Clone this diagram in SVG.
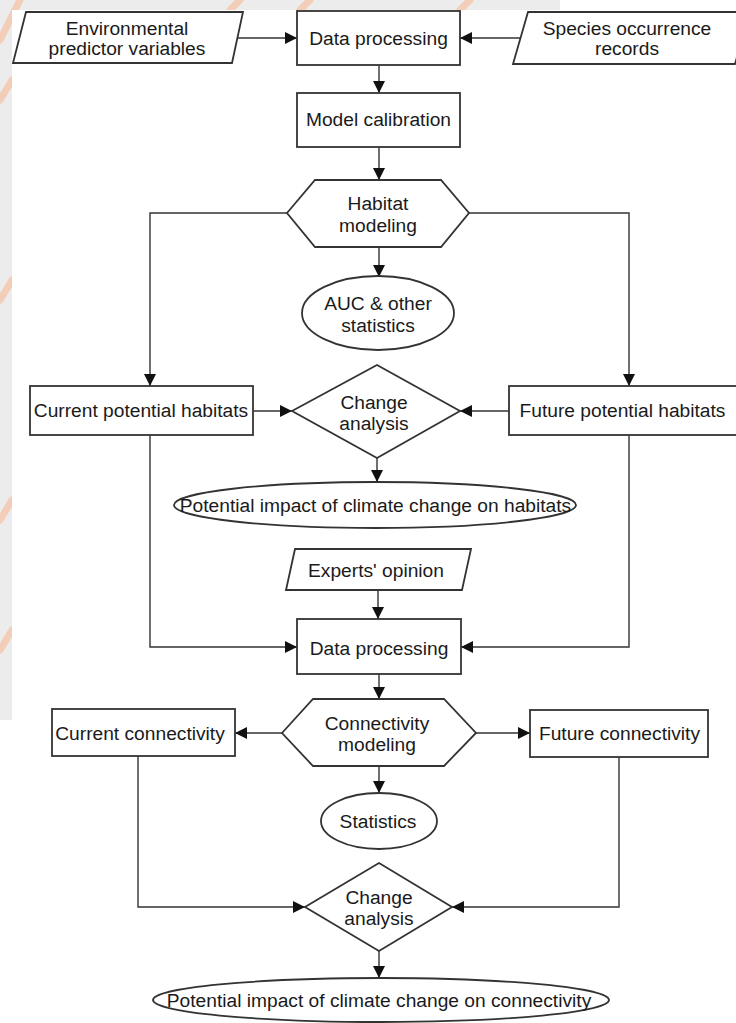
<svg xmlns="http://www.w3.org/2000/svg" width="736" height="1023" viewBox="0 0 736 1023">
<defs>
<style>
.n{fill:#fff;stroke:#333;stroke-width:1.8}
.c{fill:none;stroke:#333;stroke-width:1.4}
text{font-family:"Liberation Sans",Arial,sans-serif;font-size:19.2px;fill:#1a1a1a;text-anchor:middle}
.wm{fill:none;stroke-linecap:round}
</style>
<clipPath id="strip">
<rect x="0" y="0" width="12" height="720"/>
<rect x="0" y="0" width="560" height="10"/>
</clipPath>
<marker id="ah" markerUnits="userSpaceOnUse" markerWidth="14" markerHeight="12" refX="12" refY="6" orient="auto">
<path d="M0,0 L12,6 L0,12 Z" fill="#111"/>
</marker>
</defs>
<rect width="736" height="1023" fill="#fff"/>
<g id="watermark" clip-path="url(#strip)">
<rect x="0" y="0" width="560" height="720" fill="#ececec"/>
<path class="wm" d="M20,0 L0,40 M300,10 L310,0 M460,10 L470,0 M0,100 L12,80 M0,300 L12,280 M0,520 L12,500 M0,650 L12,630 M230,10 L240,0" stroke="#f3cdb8" stroke-width="7"/>
</g>
<g id="connectors" class="c">
<line x1="238" y1="38" x2="297" y2="38" marker-end="url(#ah)"/>
<line x1="520" y1="38" x2="460" y2="38" marker-end="url(#ah)"/>
<line x1="379" y1="65" x2="379" y2="93" marker-end="url(#ah)"/>
<line x1="379" y1="147" x2="379" y2="180" marker-end="url(#ah)"/>
<polyline points="287,213 150,213 150,386" marker-end="url(#ah)"/>
<polyline points="469,213 629,213 629,386" marker-end="url(#ah)"/>
<line x1="379" y1="247" x2="379" y2="277" marker-end="url(#ah)"/>
<line x1="253" y1="411" x2="292" y2="411" marker-end="url(#ah)"/>
<line x1="509" y1="411" x2="460" y2="411" marker-end="url(#ah)"/>
<line x1="377" y1="458" x2="377" y2="482" marker-end="url(#ah)"/>
<polyline points="150,435 150,647 297,647" marker-end="url(#ah)"/>
<polyline points="629,435 629,647 461,647" marker-end="url(#ah)"/>
<line x1="378" y1="590" x2="378" y2="619" marker-end="url(#ah)"/>
<line x1="379" y1="674" x2="379" y2="699" marker-end="url(#ah)"/>
<line x1="282" y1="733" x2="235" y2="733" marker-end="url(#ah)"/>
<line x1="476" y1="733" x2="530" y2="733" marker-end="url(#ah)"/>
<line x1="379" y1="766" x2="379" y2="793" marker-end="url(#ah)"/>
<polyline points="138,756 138,907 305,907" marker-end="url(#ah)"/>
<polyline points="619,757 619,907 452,907" marker-end="url(#ah)"/>
<line x1="379" y1="951" x2="379" y2="978" marker-end="url(#ah)"/>
</g>
<g id="env">
<polygon class="n" points="26,12 243,12 232,63 13,63"/>
<text x="127" y="34.5">Environmental</text>
<text x="127" y="54.5">predictor variables</text>
</g>
<g id="dp1">
<rect class="n" x="297" y="11" width="163" height="54"/>
<text x="378.5" y="44.5">Data processing</text>
</g>
<g id="species">
<polygon class="n" points="528,12 750,12 735,64 513,64"/>
<text x="627" y="34.5">Species occurrence</text>
<text x="627" y="54.5">records</text>
</g>
<g id="mc">
<rect class="n" x="297" y="93" width="163" height="54"/>
<text x="378.5" y="125.5">Model calibration</text>
</g>
<g id="hab_model">
<polygon class="n" points="287,213 315,180 441,180 469,213 441,247 315,247"/>
<text x="378" y="209.5">Habitat</text>
<text x="378" y="231.5">modeling</text>
</g>
<g id="auc">
<ellipse class="n" cx="378" cy="313" rx="76" ry="37"/>
<text x="378" y="309.5">AUC &amp; other</text>
<text x="378" y="331.5">statistics</text>
</g>
<g id="cur_hab">
<rect class="n" x="30" y="386" width="223" height="49"/>
<text x="141" y="416.5">Current potential habitats</text>
</g>
<g id="change1">
<polygon class="n" points="292,411 377,365 460,411 377,458"/>
<text x="374" y="408.5">Change</text>
<text x="374" y="429.5">analysis</text>
</g>
<g id="fut_hab">
<rect class="n" x="509" y="386" width="232" height="49"/>
<text x="622.5" y="416.5">Future potential habitats</text>
</g>
<g id="impact_hab">
<ellipse class="n" cx="375" cy="505" rx="201" ry="23"/>
<text x="375.5" y="511.5">Potential impact of climate change on habitats</text>
</g>
<g id="experts">
<polygon class="n" points="295,549 471,549 462,590 286,590"/>
<text x="376" y="576.5">Experts' opinion</text>
</g>
<g id="dp2">
<rect class="n" x="297" y="619" width="164" height="55"/>
<text x="379" y="654.5">Data processing</text>
</g>
<g id="conn_model">
<polygon class="n" points="282,733 313,699 444,699 476,733 444,766 313,766"/>
<text x="377" y="729.5">Connectivity</text>
<text x="377" y="750.5">modeling</text>
</g>
<g id="cur_conn">
<rect class="n" x="52" y="709" width="183" height="47"/>
<text x="140" y="739.5">Current connectivity</text>
</g>
<g id="fut_conn">
<rect class="n" x="530" y="710" width="178" height="47"/>
<text x="619.5" y="740">Future connectivity</text>
</g>
<g id="stats">
<ellipse class="n" cx="379" cy="821" rx="58" ry="28"/>
<text x="378" y="827.5">Statistics</text>
</g>
<g id="change2">
<polygon class="n" points="305,907 379,863 452,907 379,951"/>
<text x="379" y="903.5">Change</text>
<text x="379" y="924.5">analysis</text>
</g>
<g id="impact_conn">
<ellipse class="n" cx="381" cy="1000" rx="228" ry="22"/>
<text x="379" y="1006.5">Potential impact of climate change on connectivity</text>
</g>
</svg>
